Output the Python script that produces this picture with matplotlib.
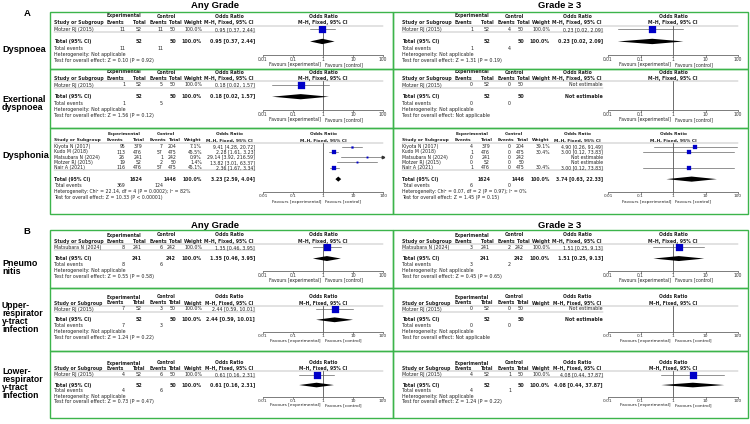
import numpy as np
import matplotlib
matplotlib.use("Agg")
import matplotlib.pyplot as plt
from matplotlib.patches import Rectangle
from matplotlib.ticker import NullLocator

# ---- data --------------------------------------------------------------
outcomes = ["Dyspnoea", "Exertional\ndyspnoea", "Dysphonia", "Pneumo\nnitis",
            "Upper-\nrespirator\ny-tract\ninfection",
            "Lower-\nrespirator\ny-tract\ninfection"]
studies = [["Motzer RJ (2015)"], ["Motzer RJ (2015)"],
           ["Kiyota N (2017)", "Kudo M (2018)", "Matsubara N (2024)",
            "Motzer RJ (2015)", "Nair A (2021)"],
           ["Matsubara N (2024)"], ["Motzer RJ (2015)"], ["Motzer RJ (2015)"]]
exp_total = [[52], [52], [379, 476, 241, 52, 476], [241], [52], [52]]
ctl_total = [[50], [50], [204, 475, 242, 50, 475], [242], [50], [50]]

# any grade
exp_ev_any = [[11], [1], [95, 113, 26, 19, 116], [8], [7], [4]]
ctl_ev_any = [[11], [5], [7, 57, 1, 2, 57], [6], [3], [6]]
weight_any = [[100.0], [100.0], [7.1, 45.5, 0.9, 1.4, 45.1], [100.0], [100.0], [100.0]]
or_any = [[0.95], [0.18], [9.41, 2.28, 29.14, 13.82, 2.36], [1.35], [2.44], [0.61]]
lo_any = [[0.37], [0.02], [4.28, 1.61, 3.92, 3.01, 1.67], [0.46], [0.59], [0.16]]
hi_any = [[2.44], [1.57], [20.72, 3.23, 216.59, 63.37, 3.34], [3.95], [10.01], [2.31]]
pool_or_any = [0.95, 0.18, 3.23, 1.35, 2.44, 0.61]
pool_lo_any = [0.37, 0.02, 2.59, 0.46, 0.59, 0.16]
pool_hi_any = [2.44, 1.57, 4.04, 3.95, 10.01, 2.31]
het_any = ["Not applicable", "Not applicable",
           "Chi\u00b2 = 22.14, df = 4 (P = 0.0002); I\u00b2 = 82%",
           "Not applicable", "Not applicable", "Not applicable"]
z_any = ["Z = 0.10 (P = 0.92)", "Z = 1.56 (P = 0.12)", "Z = 10.33 (P < 0.00001)",
         "Z = 0.55 (P = 0.58)", "Z = 1.24 (P = 0.22)", "Z = 0.73 (P = 0.47)"]

# grade >= 3
exp_ev_g3 = [[1], [0], [4, 1, 0, 0, 1], [3], [0], [4]]
ctl_ev_g3 = [[4], [0], [0, 0, 0, 0, 0], [2], [0], [1]]
weight_g3 = [[100.0], [None], [39.1, 30.4, None, None, 30.4], [100.0], [None], [100.0]]
or_g3 = [[0.23], [None], [4.90, 3.00, None, None, 3.00], [1.51], [None], [4.08]]
lo_g3 = [[0.02], [None], [0.26, 0.12, None, None, 0.12], [0.25], [None], [0.44]]
hi_g3 = [[2.09], [None], [91.49, 73.83, None, None, 73.83], [9.13], [None], [37.87]]
pool_or_g3 = [0.23, None, 3.74, 1.51, None, 4.08]
pool_lo_g3 = [0.02, None, 0.63, 0.25, None, 0.44]
pool_hi_g3 = [2.09, None, 22.33, 9.13, None, 37.87]
het_g3 = ["Not applicable", "Not applicable",
          "Chi\u00b2 = 0.07, df = 2 (P = 0.97); I\u00b2 = 0%",
          "Not applicable", "Not applicable", "Not applicable"]
z_g3 = ["Z = 1.31 (P = 0.19)", "Not applicable", "Z = 1.45 (P = 0.15)",
        "Z = 0.45 (P = 0.65)", "Not applicable", "Z = 1.24 (P = 0.22)"]

# ---- layout (pixels) ----------------------------------------------------
W, H = 750, 424
box_top = [12, 69, 128, 230, 288, 351]
box_bot = [69, 128, 214, 288, 351, 418]
row_off = [4, 3, 6, 5, 9, 12]
unit = [6.7, 6.5, 6.4, 6.2, 6.0, 5.8]
study_sp = [6.7, 6.5, 5.2, 6.2, 6.0, 5.8]
font_sz = [3.45, 3.45, 3.3, 3.45, 3.4, 3.4]
label_y = [50, 100, 155, 263, 306, 371]
label_step = [7.5, 8, 7.5, 9, 8, 8]
label_fs = [6.6, 6.4, 6.6, 6.4, 6.2, 6.2]

GREEN = "#3cb44b"
BLUE = "#0000c8"
TXT = "#222222"

fig = plt.figure(figsize=(7.5, 4.24), dpi=100)
base = fig.add_axes([0, 0, 1, 1])
base.set_xlim(0, W)
base.set_ylim(H, 0)
base.axis("off")


def T(x, y, s, fs, ha="left", bold=False):
    base.text(x, y, s, ha=ha, va="center", fontsize=fs, color=TXT,
              fontweight="bold" if bold else "normal", family="DejaVu Sans")


def fmt_or(o, l, h):
    return "%.2f [%.2f, %.2f]" % (o, l, h)


def panel(k, side):
    if side == 0:
        x0, axl, axr = 54, 263, 383
        ev_e, ev_c, wts = exp_ev_any[k], ctl_ev_any[k], weight_any[k]
        ors, los, his = or_any[k], lo_any[k], hi_any[k]
        po, pl, ph = pool_or_any[k], pool_lo_any[k], pool_hi_any[k]
        het, z = het_any[k], z_any[k]
    else:
        x0, axl, axr = 402, 608, 738
        ev_e, ev_c, wts = exp_ev_g3[k], ctl_ev_g3[k], weight_g3[k]
        ors, los, his = or_g3[k], lo_g3[k], hi_g3[k]
        po, pl, ph = pool_or_g3[k], pool_lo_g3[k], pool_hi_g3[k]
        het, z = het_g3[k], z_g3[k]
    c_ee, c_et, c_ce, c_ct, c_w, c_or = x0 + 71, x0 + 88, x0 + 109, x0 + 122, x0 + 148, x0 + 201
    xc = (axl + axr) / 2.0
    fs = font_sz[k]
    hf = fs - 0.15

    u = unit[k]
    h1 = box_top[k] + row_off[k]
    h2 = h1 + u
    hl = h1 + 1.45 * u
    n = len(studies[k])
    ys = [h1 + 2 * u + i * study_sp[k] for i in range(n)]
    last = ys[-1]
    ytot = last + 1.8 * u
    yev = ytot + u
    yhet = ytot + 1.9 * u
    ytest = ytot + 2.9 * u
    yaxis = yhet + 0.1 * u

    # header
    T(x0 + 70, h1, "Experimental", hf, "center", True)
    T(x0 + 112, h1, "Control", hf, "center", True)
    T(x0 + 175, h1, "Odds Ratio", hf, "center", True)
    T(xc, h1, "Odds Ratio", hf, "center", True)
    T(x0, h2, "Study or Subgroup", hf, bold=True)
    T(x0 + 61, h2, "Events", hf, "center", True)
    T(x0 + 85, h2, "Total", hf, "center", True)
    T(x0 + 104, h2, "Events", hf, "center", True)
    T(x0 + 121, h2, "Total", hf, "center", True)
    T(x0 + 139, h2, "Weight", hf, "center", True)
    T(x0 + 175, h2, "M\u2013H, Fixed, 95% CI", hf, "center", True)
    T(xc, h2, "M\u2013H, Fixed, 95% CI", hf, "center", True)
    base.plot([x0, axr], [hl, hl], color="#888888", lw=0.35)
    base.plot([x0, c_or], [last + 0.45 * u, last + 0.45 * u], color="#888888", lw=0.35)

    # forest axes
    fax = fig.add_axes([axl / W, 1 - yaxis / H, (axr - axl) / W, (yaxis - hl) / H])
    fax.set_xscale("log")
    fax.set_xlim(0.01, 100)
    fax.set_ylim(yaxis, hl)
    fax.patch.set_alpha(0)
    for s in ["top", "left", "right"]:
        fax.spines[s].set_visible(False)
    fax.spines["bottom"].set_linewidth(0.45)
    fax.spines["bottom"].set_color("#333333")
    fax.set_xticks([0.01, 0.1, 1, 10, 100])
    fax.set_xticklabels(["0.01", "0.1", "1", "10", "100"])
    fax.xaxis.set_minor_locator(NullLocator())
    fax.set_yticks([])
    fax.tick_params(axis="x", labelsize=fs - 0.2, length=1.2, width=0.4, pad=0.2,
                    colors="#333333")
    fax.axvline(1, color="#333333", lw=0.5)

    for i in range(n):
        y = ys[i]
        T(x0, y, studies[k][i], fs)
        T(c_ee, y, str(ev_e[i]), fs, "right")
        T(c_et, y, str(exp_total[k][i]), fs, "right")
        T(c_ce, y, str(ev_c[i]), fs, "right")
        T(c_ct, y, str(ctl_total[k][i]), fs, "right")
        if ors[i] is None:
            T(c_or, y, "Not estimable", fs, "right")
            continue
        T(c_w, y, "%.1f%%" % wts[i], fs, "right")
        T(c_or, y, fmt_or(ors[i], los[i], his[i]), fs, "right")
        fax.plot([los[i], min(his[i], 100)], [y, y], color="#555555", lw=0.45, zorder=2)
        if his[i] > 100:
            fax.plot(100, y, marker=">", ms=1.8, color="#333333", clip_on=False, zorder=3)
        ms = max(1.1, 7.0 * np.sqrt(wts[i] / 100.0) * 0.72)
        fax.plot(ors[i], y, marker="s", ms=ms, color=BLUE, mec=BLUE, mew=0.2, zorder=3)

    T(x0, ytot, "Total (95% CI)", fs, bold=True)
    T(c_et, ytot, str(sum(exp_total[k])), fs, "right", True)
    T(c_ct, ytot, str(sum(ctl_total[k])), fs, "right", True)
    if po is None:
        T(c_or, ytot, "Not estimable", fs, "right", True)
    else:
        T(c_w, ytot, "100.0%", fs, "right", True)
        T(c_or, ytot, fmt_or(po, pl, ph), fs, "right", True)
        dh = 0.4 * u
        fax.fill([pl, po, ph, po], [ytot, ytot - dh, ytot, ytot + dh], color="black",
                 lw=0, zorder=3, clip_on=False)
    T(x0, yev, "Total events", fs)
    T(c_ee, yev, str(sum(ev_e)), fs, "right")
    T(c_ce, yev, str(sum(ev_c)), fs, "right")
    T(x0, yhet, "Heterogeneity: " + het, fs)
    T(x0, ytest, "Test for overall effect: " + z, fs)
    T(xc - 2, yaxis + 1.5 * u, "Favours [experimental]", fs - 0.2, "right")
    T(xc + 2, yaxis + 1.5 * u, "Favours [control]", fs - 0.2, "left")

    # green frame
    bx = 50 if side == 0 else 393
    bw = 343 if side == 0 else 355
    base.add_patch(Rectangle((bx, box_top[k]), bw, box_bot[k] - box_top[k],
                             fill=False, edgecolor=GREEN, lw=1.0, zorder=5))


for k in range(6):
    panel(k, 0)
    panel(k, 1)
    for j, line in enumerate(outcomes[k].split("\n")):
        y = label_y[k] + j * label_step[k]
        base.text(2, y, line, ha="left", va="center", fontsize=label_fs[k],
                  fontweight="bold", family="Liberation Sans", color="black")

for y, lab in [(6, "A"), (225, "B")]:
    base.text(27, y + 7, lab, ha="center", va="center", fontsize=6.8,
              fontweight="bold", family="Liberation Sans")
    base.text(215, y, "Any Grade", ha="center", va="center", fontsize=6.8,
              fontweight="bold", family="Liberation Sans")
    base.text(560, y, "Grade \u2265 3", ha="center", va="center", fontsize=6.8,
              fontweight="bold", family="Liberation Sans")

fig.savefig("out.png", dpi=100)
